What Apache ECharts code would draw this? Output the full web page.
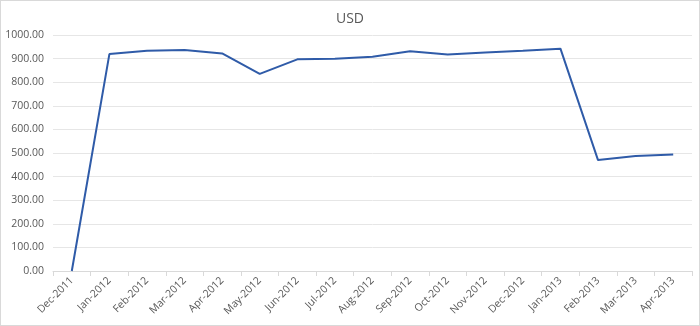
<!DOCTYPE html>
<html><head><meta charset="utf-8">
<script src="https://cdn.jsdelivr.net/npm/echarts@6/dist/echarts.min.js"></script>
<style>html,body{margin:0;padding:0;background:#fff}#c{width:698px;height:324px;border:1px solid #d9d9d9}</style>
</head><body><div id="c"></div>
<script>
var categories = ['Dec-2011','Jan-2012','Feb-2012','Mar-2012','Apr-2012','May-2012','Jun-2012','Jul-2012','Aug-2012','Sep-2012','Oct-2012','Nov-2012','Dec-2012','Jan-2013','Feb-2013','Mar-2013','Apr-2013'];
var usd = [0, 919, 933, 936, 922, 835, 897, 899, 908, 931, 917, 926, 933, 942, 470, 487, 494];
var chart = echarts.init(document.getElementById('c'));
chart.setOption({
  animation: false,
  title: {text: 'USD', left: 'center', top: 6, textStyle: {fontFamily: 'Open Sans', fontSize: 14, fontWeight: 'normal', color: '#595959'}},
  grid: {left: 52, right: 7, top: 34, bottom: 54},
  xAxis: {type: 'category', data: categories, boundaryGap: true,
    axisLine: {lineStyle: {color: '#d9d9d9'}},
    axisTick: {show: true, length: 5, lineStyle: {color: '#d9d9d9'}},
    axisLabel: {rotate: 45, interval: 0, fontFamily: 'Open Sans', fontSize: 10.5, color: '#595959', margin: 8}},
  yAxis: {type: 'value', min: 0, max: 1000, interval: 100,
    axisLine: {show: false}, axisTick: {show: false},
    splitLine: {lineStyle: {color: '#e6e6e6'}},
    axisLabel: {formatter: function(v){return v.toFixed(2);}, fontFamily: 'Open Sans', fontSize: 10.5, color: '#595959', margin: 9}},
  series: [{type: 'line', data: usd, showSymbol: false, symbol: 'none', lineStyle: {color: '#2f5ba8', width: 2}}]
});
</script></body></html>
